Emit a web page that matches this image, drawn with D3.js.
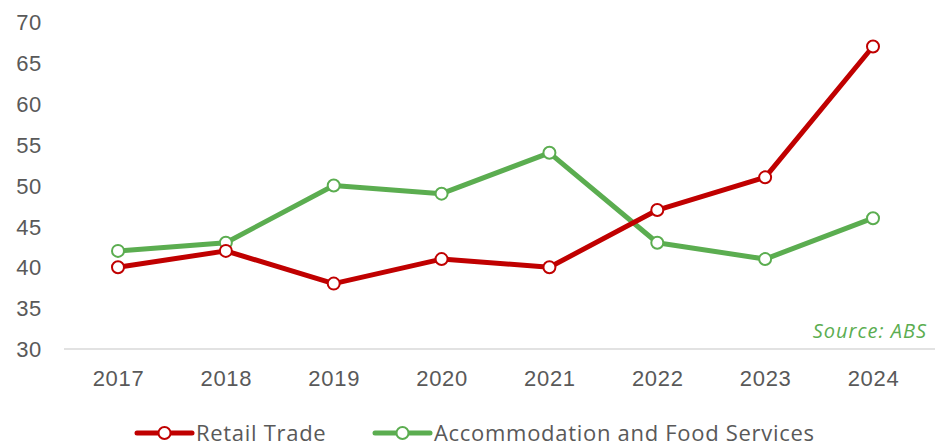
<!DOCTYPE html>
<html>
<head>
<meta charset="utf-8">
<script src="https://cdn.jsdelivr.net/npm/d3@7"></script>
<style>
  html, body { margin: 0; padding: 0; background: #fff; }
  svg { display: block; font-family: "Open Sans", "Noto Sans", sans-serif; }
</style>
</head>
<body>
<svg id="chart" width="935" height="446"></svg>
<script>
// Categories and series
const years = ["2017", "2018", "2019", "2020", "2021", "2022", "2023", "2024"];
const retailTrade = [40, 42, 38, 41, 40, 47, 51, 67];
const accommodationFood = [42, 43, 50, 49, 54, 43, 41, 46];
const yTicks = [30, 35, 40, 45, 50, 55, 60, 65, 70];

const seriesNames = ["Retail Trade", "Accommodation and Food Services"];
const seriesColors = ["#C00000", "#5BAD50"];

const svg = d3.select("#chart");
const margin = { left: 64, right: 0, top: 22, bottom: 97 };
const W = 935, H = 446;
const textColor = "#595959";
const fontSize = "22px";
const spacing = "0.7px";

const x = d3.scalePoint().domain(years).range([118, 873]);
const y = d3.scaleLinear().domain([30, 70]).range([H - margin.bottom, margin.top]);

// Y axis labels (no line, no ticks)
const yAxis = svg.append("g")
  .attr("transform", `translate(${42},0)`)
  .call(d3.axisLeft(y).tickValues(yTicks).tickSize(0).tickPadding(0));
yAxis.select(".domain").remove();
yAxis.selectAll("text")
  .attr("fill", textColor)
  .style("font-size", fontSize)
  .style("letter-spacing", spacing)
  .attr("dy", "0.35em");

// Baseline
svg.append("line")
  .attr("x1", margin.left).attr("x2", W)
  .attr("y1", y(30)).attr("y2", y(30))
  .attr("stroke", "#d9d9d9").attr("stroke-width", 1.5);

// X axis labels
const xAxis = svg.append("g")
  .attr("transform", `translate(0,${y(30)})`)
  .call(d3.axisBottom(x).tickSize(0).tickPadding(21));
xAxis.select(".domain").remove();
xAxis.selectAll("text")
  .attr("fill", textColor)
  .style("font-size", fontSize)
  .style("letter-spacing", spacing)
  .attr("dy", "0.71em");

// Source note
svg.append("text")
  .attr("x", 927).attr("y", 338)
  .attr("text-anchor", "end")
  .attr("fill", "#5BAD50")
  .style("font-size", "20px")
  .style("letter-spacing", "1px")
  .style("font-style", "italic")
  .text("Source: ABS");

const line = d3.line()
  .x((d, i) => x(years[i]))
  .y(d => y(d));

const allSeries = [retailTrade, accommodationFood];

// Draw green first so red sits on top where they cross
[1, 0].forEach(k => {
  const values = allSeries[k];
  const g = svg.append("g");
  g.append("path")
    .datum(values)
    .attr("d", line)
    .attr("fill", "none")
    .attr("stroke", seriesColors[k])
    .attr("stroke-width", 5)
    .attr("stroke-linejoin", "round");
  g.selectAll("circle")
    .data(values)
    .join("circle")
    .attr("cx", (d, i) => x(years[i]))
    .attr("cy", d => y(d))
    .attr("r", 6)
    .attr("fill", "#fff")
    .attr("stroke", seriesColors[k])
    .attr("stroke-width", 2);
});

// Legend
const legendY = 433;
const legendItems = [
  { name: seriesNames[0], color: seriesColors[0], x0: 137 },
  { name: seriesNames[1], color: seriesColors[1], x0: 375 }
];
legendItems.forEach(item => {
  const g = svg.append("g");
  g.append("line")
    .attr("x1", item.x0).attr("x2", item.x0 + 55)
    .attr("y1", legendY).attr("y2", legendY)
    .attr("stroke", item.color).attr("stroke-width", 5)
    .attr("stroke-linecap", "round");
  g.append("circle")
    .attr("cx", item.x0 + 27.5).attr("cy", legendY)
    .attr("r", 6)
    .attr("fill", "#fff")
    .attr("stroke", item.color).attr("stroke-width", 2);
  g.append("text")
    .attr("x", item.x0 + 59).attr("y", legendY)
    .attr("dy", "0.35em")
    .attr("fill", textColor)
    .style("font-size", fontSize)
    .style("letter-spacing", spacing)
    .text(item.name);
});
</script>
</body>
</html>
